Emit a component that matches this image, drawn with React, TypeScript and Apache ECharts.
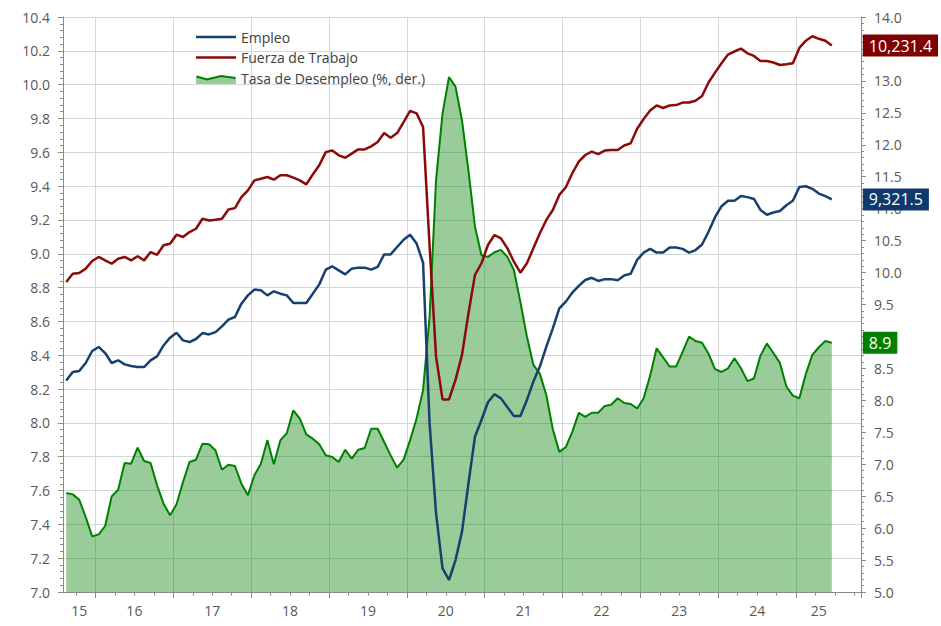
import React, { useEffect, useRef } from "react";
import * as echarts from "echarts";

// Monthly categories: Aug 2015 .. Oct 2025 (axis), data Aug 2015 .. Jun 2025
const START_YEAR = 2015;
const START_MONTH = 8;
const AXIS_MONTHS = 123;

const categories: string[] = [];
for (let k = 0; k < AXIS_MONTHS; k++) {
  const m0 = START_MONTH - 1 + k;
  const y = START_YEAR + Math.floor(m0 / 12);
  const m = (m0 % 12) + 1;
  categories.push(`${y}-${String(m).padStart(2, "0")}`);
}

// Year labels and the category each one sits on
const yearLabels: Record<string, string> = {
  "2015-10": "15",
  "2016-06": "16",
  "2017-06": "17",
  "2018-06": "18",
  "2019-06": "19",
  "2020-06": "20",
  "2021-06": "21",
  "2022-06": "22",
  "2023-06": "23",
  "2024-06": "24",
  "2025-04": "25",
};

// Empleo (millones)
const empleo = [
  8.251, 8.301, 8.307, 8.354, 8.425, 8.449, 8.413, 8.354, 8.370, 8.346,
  8.336, 8.330, 8.330, 8.370, 8.393, 8.458, 8.504, 8.533, 8.488, 8.478,
  8.496, 8.531, 8.523, 8.537, 8.571, 8.610, 8.626, 8.705, 8.754, 8.788,
  8.784, 8.754, 8.778, 8.764, 8.754, 8.709, 8.709, 8.709, 8.764, 8.819,
  8.906, 8.926, 8.902, 8.878, 8.912, 8.918, 8.918, 8.906, 8.922, 8.996,
  8.996, 9.040, 9.083, 9.112, 9.061, 8.947, 8.000, 7.465, 7.140, 7.071,
  7.189, 7.357, 7.643, 7.919, 8.017, 8.122, 8.169, 8.145, 8.092, 8.041,
  8.041, 8.135, 8.244, 8.333, 8.451, 8.559, 8.677, 8.717, 8.770, 8.810,
  8.845, 8.858, 8.839, 8.850, 8.850, 8.844, 8.872, 8.882, 8.964, 9.007,
  9.029, 9.007, 9.007, 9.037, 9.037, 9.029, 9.007, 9.022, 9.055, 9.130,
  9.216, 9.281, 9.313, 9.313, 9.341, 9.335, 9.324, 9.259, 9.231, 9.244,
  9.253, 9.287, 9.313, 9.395, 9.399, 9.384, 9.356, 9.341, 9.3215,
];

// Fuerza de Trabajo (millones)
const fuerzaTrabajo = [
  8.833, 8.882, 8.886, 8.912, 8.957, 8.981, 8.961, 8.941, 8.971, 8.981,
  8.961, 8.985, 8.961, 9.010, 8.994, 9.050, 9.059, 9.113, 9.099, 9.128,
  9.148, 9.207, 9.197, 9.201, 9.207, 9.262, 9.270, 9.335, 9.375, 9.434,
  9.444, 9.454, 9.438, 9.464, 9.464, 9.450, 9.434, 9.410, 9.469, 9.523,
  9.601, 9.611, 9.582, 9.568, 9.592, 9.617, 9.617, 9.635, 9.661, 9.714,
  9.686, 9.714, 9.779, 9.845, 9.830, 9.750, 9.050, 8.392, 8.139, 8.139,
  8.254, 8.402, 8.648, 8.875, 8.944, 9.052, 9.111, 9.091, 9.032, 8.953,
  8.888, 8.944, 9.032, 9.121, 9.200, 9.259, 9.348, 9.393, 9.476, 9.545,
  9.584, 9.604, 9.589, 9.610, 9.614, 9.614, 9.640, 9.653, 9.739, 9.797,
  9.847, 9.877, 9.862, 9.877, 9.879, 9.894, 9.894, 9.905, 9.933, 10.013,
  10.071, 10.127, 10.178, 10.196, 10.213, 10.185, 10.170, 10.140, 10.140, 10.131,
  10.116, 10.120, 10.127, 10.217, 10.260, 10.286, 10.271, 10.260, 10.2314,
];

// Tasa de Desempleo (%)
const tasaDesempleo = [
  6.549, 6.528, 6.445, 6.174, 5.871, 5.902, 6.033, 6.497, 6.601, 7.019,
  7.008, 7.259, 7.050, 7.019, 6.669, 6.382, 6.200, 6.372, 6.721, 7.034,
  7.071, 7.321, 7.311, 7.217, 6.914, 6.993, 6.972, 6.695, 6.513, 6.826,
  7.008, 7.374, 6.998, 7.374, 7.488, 7.843, 7.713, 7.467, 7.400, 7.311,
  7.139, 7.113, 7.034, 7.227, 7.087, 7.227, 7.254, 7.556, 7.556, 7.347,
  7.139, 6.946, 7.071, 7.377, 7.715, 8.160, 9.300, 11.448, 12.491, 13.060,
  12.910, 12.380, 11.590, 10.717, 10.272, 10.245, 10.318, 10.355, 10.245, 10.040,
  9.540, 9.000, 8.556, 8.418, 8.080, 7.548, 7.193, 7.267, 7.507, 7.804,
  7.742, 7.806, 7.805, 7.913, 7.930, 8.033, 7.959, 7.942, 7.873, 8.033,
  8.387, 8.814, 8.672, 8.529, 8.529, 8.757, 8.997, 8.928, 8.900, 8.729,
  8.489, 8.444, 8.501, 8.660, 8.501, 8.301, 8.341, 8.700, 8.888, 8.740,
  8.586, 8.216, 8.073, 8.033, 8.415, 8.712, 8.831, 8.928, 8.9,
];

const SERIES_NAMES = ["Empleo", "Fuerza de Trabajo", "Tasa de Desempleo (%, der.)"];

const FONT = "'Open Sans', 'Noto Sans', sans-serif";
const BLUE = "#17406f";
const RED = "#8b0a0a";
const GREEN = "#008000";
const AXIS_COLOR = "#8a8a8a";
const GRID_COLOR = "#d3d7d7";
const LABEL_COLOR = "#595959";

const svgIcon = (body: string) =>
  "image://data:image/svg+xml;charset=utf-8," +
  encodeURIComponent(
    "<svg xmlns='http://www.w3.org/2000/svg' width='40' height='14' viewBox='0 0 40 14'>" + body + "</svg>"
  );

const lineIcon = (color: string) =>
  svgIcon(`<line x1='0' y1='7' x2='40' y2='7' stroke='${color}' stroke-width='2.5'/>`);

const areaIcon = svgIcon(
  "<path d='M0,13 L0,5.5 L11,8.5 L25,5 L40,7 L40,13 Z' fill='rgb(153,204,153)'/>" +
    "<polyline points='0.5,5.5 11,8.5 25,5 39.5,7' fill='none' stroke='#008000' stroke-width='2'/>"
);

export default function App() {
  const ref = useRef<HTMLDivElement>(null);

  useEffect(() => {
    if (!ref.current) return;
    const chart = echarts.init(ref.current, undefined, { renderer: "svg" });

    const isJan = (_i: number, v: string) => v.endsWith("-01");
    const isQuarter = (_i: number, v: string) =>
      v.endsWith("-04") || v.endsWith("-07") || v.endsWith("-10");

    const endLabelBase = {
      show: true,
      color: "#ffffff",
      fontSize: 16,
      fontFamily: FONT,
      padding: [3, 6, 2, 6],
      distance: 31,
      lineHeight: 17,
    };

    const thousands = (p: any) =>
      (Number(p.value) * 1000).toLocaleString("en-US", {
        minimumFractionDigits: 1,
        maximumFractionDigits: 1,
      });

    chart.setOption({
      animation: false,
      backgroundColor: "#ffffff",
      textStyle: { fontFamily: FONT },
      grid: { left: 63, right: 80, top: 17, bottom: 34, containLabel: false },
      legend: {
        orient: "vertical",
        left: 196,
        top: 30,
        padding: 0,
        itemGap: 6.5,
        itemWidth: 40,
        itemHeight: 14,
        textStyle: { fontSize: 14, color: "#404040", fontFamily: FONT, lineHeight: 14 },
        data: [
          { name: SERIES_NAMES[0], icon: lineIcon(BLUE) },
          { name: SERIES_NAMES[1], icon: lineIcon(RED) },
          { name: SERIES_NAMES[2], icon: areaIcon },
        ],
      },
      xAxis: [
        {
          type: "category",
          data: categories,
          boundaryGap: true,
          position: "bottom",
          axisLine: { show: true, lineStyle: { color: AXIS_COLOR, width: 1 } },
          axisTick: { show: true, length: 6, interval: isJan, lineStyle: { color: AXIS_COLOR } },
          splitLine: { show: true, interval: isJan, lineStyle: { color: GRID_COLOR, width: 1 } },
          axisLabel: {
            show: true,
            interval: (_i: number, v: string) => v in yearLabels,
            formatter: (v: string) =>
              v.endsWith("-06") ? `{s|${yearLabels[v]}}` : `{n|${yearLabels[v]}}`,
            margin: 11,
            color: LABEL_COLOR,
            fontSize: 14,
            fontFamily: FONT,
            rich: {
              s: { padding: [0, 0, 0, 6.5], fontSize: 14, color: LABEL_COLOR, fontFamily: FONT },
              n: { fontSize: 14, color: LABEL_COLOR, fontFamily: FONT },
            },
          },
        },
        {
          type: "category",
          data: categories,
          boundaryGap: true,
          position: "bottom",
          axisLine: { show: false },
          axisTick: { show: true, length: 3.5, interval: isQuarter, lineStyle: { color: AXIS_COLOR } },
          splitLine: { show: false },
          axisLabel: { show: false },
        },
      ],
      yAxis: [
        {
          type: "value",
          min: 7,
          max: 10.4,
          interval: 0.2,
          position: "left",
          axisLine: { show: true, lineStyle: { color: AXIS_COLOR } },
          axisTick: { show: true, length: 5, lineStyle: { color: AXIS_COLOR } },
          minorTick: { show: true, splitNumber: 5, length: 3, lineStyle: { color: AXIS_COLOR } },
          splitLine: { show: true, lineStyle: { color: GRID_COLOR, width: 1 } },
          axisLabel: {
            margin: 13,
            color: LABEL_COLOR,
            fontSize: 14,
            fontFamily: FONT,
            formatter: (v: number) => v.toFixed(1),
          },
        },
        {
          type: "value",
          min: 5,
          max: 14,
          interval: 0.5,
          position: "right",
          axisLine: { show: true, lineStyle: { color: AXIS_COLOR } },
          axisTick: { show: true, length: 5, lineStyle: { color: AXIS_COLOR } },
          minorTick: { show: true, splitNumber: 5, length: 3, lineStyle: { color: AXIS_COLOR } },
          splitLine: { show: false },
          axisLabel: {
            margin: 13,
            color: LABEL_COLOR,
            fontSize: 14,
            fontFamily: FONT,
            formatter: (v: number) => v.toFixed(1),
          },
        },
      ],
      series: [
        {
          name: SERIES_NAMES[2],
          type: "line",
          xAxisIndex: 0,
          yAxisIndex: 1,
          data: tasaDesempleo,
          symbol: "none",
          lineStyle: { color: GREEN, width: 2 },
          itemStyle: { color: GREEN },
          areaStyle: { color: GREEN, opacity: 0.4, origin: "start" },
          z: 1,
          endLabel: {
            ...endLabelBase,
            backgroundColor: "#008000",
            formatter: (p: any) => Number(p.value).toFixed(1),
          },
        },
        {
          name: SERIES_NAMES[0],
          type: "line",
          xAxisIndex: 0,
          yAxisIndex: 0,
          data: empleo,
          symbol: "none",
          lineStyle: { color: BLUE, width: 2.5 },
          itemStyle: { color: BLUE },
          z: 3,
          endLabel: { ...endLabelBase, backgroundColor: "#0e3a6b", formatter: thousands },
        },
        {
          name: SERIES_NAMES[1],
          type: "line",
          xAxisIndex: 0,
          yAxisIndex: 0,
          data: fuerzaTrabajo,
          symbol: "none",
          lineStyle: { color: RED, width: 2.5 },
          itemStyle: { color: RED },
          z: 3,
          endLabel: { ...endLabelBase, backgroundColor: "#7f0000", formatter: thousands },
        },
      ],
    });

    return () => chart.dispose();
  }, []);

  return (
    <div
      ref={ref}
      style={{ position: "absolute", left: 0, top: 0, width: 941, height: 626, background: "#fff" }}
    />
  );
}
